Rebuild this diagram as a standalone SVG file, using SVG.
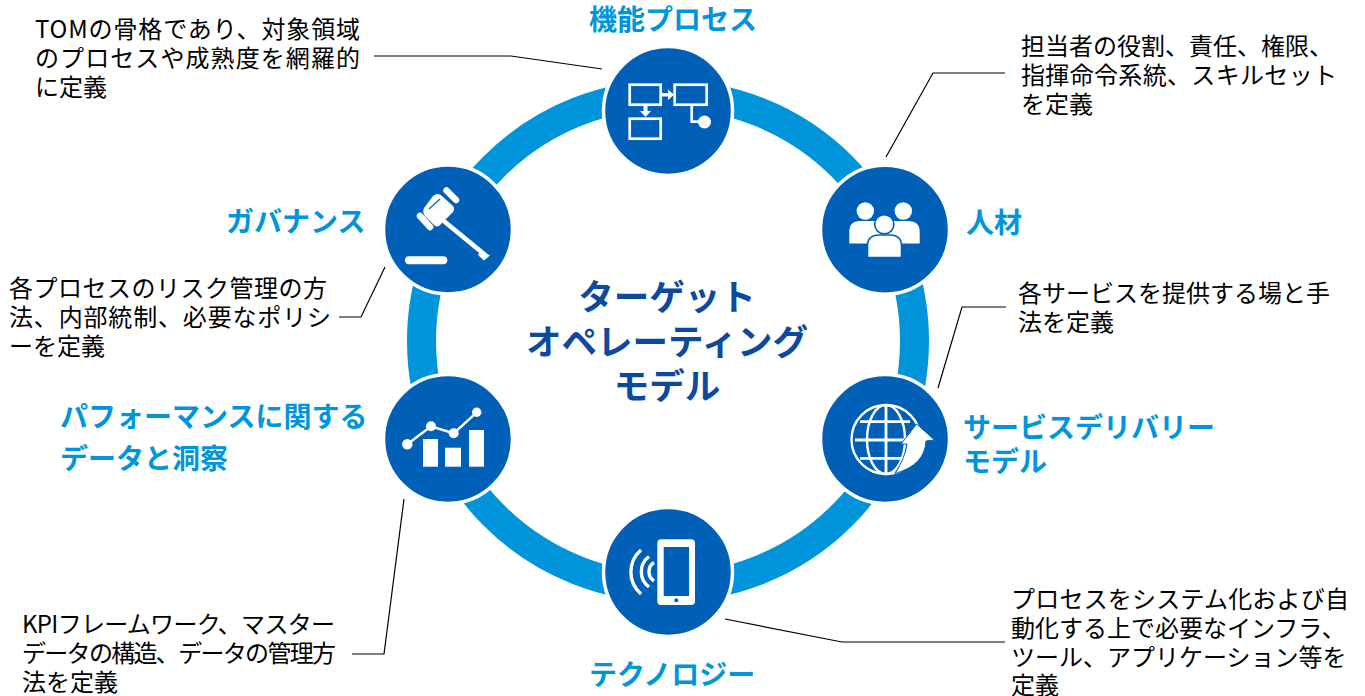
<svg xmlns="http://www.w3.org/2000/svg" width="1365" height="696" viewBox="0 0 1365 696">
<style>
text{font-family:"Noto Sans CJK JP","Noto Sans",sans-serif}
.b{font-size:24px;fill:#000}
.l{font-size:28px;font-weight:700;fill:#0095db}
.t{font-size:35.5px;font-weight:700;fill:#0b4a9e;text-anchor:middle}
.c{fill:#0060b8;stroke:#fff;stroke-width:3.5}
.w{fill:#fff}
.o{fill:none;stroke:#fff}
.x{fill:none;stroke:#000;stroke-width:1.2}
</style>
<rect width="1365" height="696" fill="#fff"/>
<circle id="ring" cx="668" cy="341" r="246.5" fill="none" stroke="#0095db" stroke-width="29"/>
<g id="connectors">
<path class="x" d="M374 56H511L602 69"/>
<path class="x" d="M1005 73H933L886 157"/>
<path class="x" d="M1006 307H962L938 388"/>
<path class="x" d="M1005 642H842L725 619"/>
<path class="x" d="M404 499L384 654H352"/>
<path class="x" d="M385 267L361 317H339"/>
</g>
<g id="node-process">
<circle class="c" cx="668" cy="111" r="64.5"/>
<g class="o" stroke-width="2.7"><rect x="629.7" y="84.7" width="31" height="20"/><rect x="674.7" y="84.7" width="32" height="20"/><rect x="629.7" y="118.7" width="31" height="20"/><path d="M691.7 106V121.7H703"/></g>
<circle class="w" cx="704.5" cy="122" r="6.5"/>
<path class="w" d="M662 93H668V89.5L674 94.7L668 100V96.5H662ZM643.5 106H647.5V111H651L645.5 117L640 111H643.5Z"/>
<text class="l" x="589" y="30">機能プロセス</text>
<text class="b" x="35" y="38" textLength="325">TOMの骨格であり、対象領域</text>
<text class="b" x="35" y="67" textLength="325">のプロセスや成熟度を網羅的</text>
<text class="b" x="35" y="96">に定義</text>
</g>
<g id="node-people">
<circle class="c" cx="885" cy="229.7" r="64.5"/>
<circle class="w" cx="865.3" cy="211" r="8.7"/><circle class="w" cx="903.3" cy="211" r="8.7"/>
<path class="w" d="M849.3 243.5V232Q849.3 221 860 221H908Q919.7 221 919.7 232V243.5Z"/>
<circle class="w" cx="884.3" cy="224.3" r="9.6" stroke="#0060b8" stroke-width="1.6"/>
<path class="w" stroke="#0060b8" stroke-width="1.6" d="M867.5 257.5V246Q867.5 235 879 235H890Q901.5 235 901.5 246V257.5Z"/>
<text class="l" x="966" y="233">人材</text>
<text class="b" x="1021" y="55">担当者の役割、責任、権限、</text>
<text class="b" x="1021" y="84" textLength="316">指揮命令系統、スキルセット</text>
<text class="b" x="1021" y="113">を定義</text>
</g>
<g id="node-service">
<circle class="c" cx="885" cy="439" r="64.5"/>
<g class="o" stroke-width="2.4"><circle cx="886" cy="439.5" r="34.5"/><ellipse cx="886" cy="439.5" rx="19" ry="34.5"/><path d="M886 405V474M860 421.7H910M855 440H907M860 458.3H907" stroke-width="2.8"/></g>
<path class="w" stroke="#0060b8" stroke-width="1" d="M916.7 424L934.5 440L926 441Q925 465 895 473.5Q905 458 907 444L901 444Z"/>
<text class="l" x="963" y="438">サービスデリバリー</text>
<text class="l" x="963" y="472">モデル</text>
<text class="b" x="1018" y="302">各サービスを提供する場と手</text>
<text class="b" x="1018" y="331">法を定義</text>
</g>
<g id="node-technology">
<circle class="c" cx="668" cy="572" r="64.5"/>
<path class="w" fill-rule="evenodd" d="M661 539.3H691Q695 539.3 695 543.3V601Q695 605 691 605H661Q657.3 605 657.3 601V543.3Q657.3 539.3 661 539.3ZM663.7 547V596H689V547Z"/>
<circle cx="676.3" cy="600.3" r="2" fill="#0060b8"/>
<g class="o" stroke-width="3.4"><path d="M654 562.5A11 11 0 0 0 654 581"/><path d="M649 556.5A19 19 0 0 0 649 587"/><path d="M641 550A29 29 0 0 0 641 594"/></g>
<text class="l" x="589" y="685">テクノロジー</text>
<text class="b" x="1011" y="608" textLength="338">プロセスをシステム化および自</text>
<text class="b" x="1011" y="637">動化する上で必要なインフラ、</text>
<text class="b" x="1011" y="666">ツール、アプリケーション等を</text>
<text class="b" x="1011" y="694">定義</text>
</g>
<g id="node-data">
<circle class="c" cx="448" cy="439" r="64.5"/>
<rect class="w" x="423" y="439" width="15" height="27.7"/><rect class="w" x="445" y="447.7" width="16" height="19"/><rect class="w" x="469" y="430" width="15" height="36.7"/>
<path class="o" stroke-width="2.5" d="M407.3 444.3L431 426.3L453.7 433.3L476.7 412.3"/>
<circle class="w" cx="407.3" cy="444.3" r="5.2"/><circle class="w" cx="431" cy="426.3" r="5"/><circle class="w" cx="453.7" cy="433.3" r="5"/><circle class="w" cx="476.7" cy="412.3" r="4.7"/>
<text class="l" x="60" y="427">パフォーマンスに関する</text>
<text class="l" x="60" y="469">データと洞察</text>
<text class="b" x="22" y="633" textLength="313">KPIフレームワーク、マスター</text>
<text class="b" x="22" y="662" textLength="314">データの構造、データの管理方</text>
<text class="b" x="22" y="691">法を定義</text>
</g>
<g id="node-governance">
<circle class="c" cx="448" cy="229.5" r="64.5"/>
<path class="o" stroke-linecap="round" stroke-width="6.5" d="M446.5 190.5L456 200M420 216L430 227"/>
<path class="w" d="M433 196Q438 192 442 196L453 206Q455 209 453 212L440 225Q437 228 434 225L425 216Q422 212 424 208Z"/>
<path fill="none" stroke="#0060b8" stroke-width="1.2" d="M429 209L440 199"/>
<path class="o" stroke-width="4.8" stroke-linecap="round" d="M445 222L484 254"/>
<path class="w" d="M481 250L490 255.5L484 260.5L478 255Z"/>
<rect class="w" x="405" y="256.3" width="42.3" height="8" rx="4"/>
<text class="l" x="226" y="232">ガバナンス</text>
<text class="b" x="9" y="297" textLength="318">各プロセスのリスク管理の方</text>
<text class="b" x="9" y="326" textLength="322">法、内部統制、必要なポリシ</text>
<text class="b" x="9" y="355">ーを定義</text>
</g>
<g id="title">
<text class="t" x="667" y="310">ターゲット</text>
<text class="t" x="667" y="355">オペレーティング</text>
<text class="t" x="667" y="399">モデル</text>
</g>
</svg>
